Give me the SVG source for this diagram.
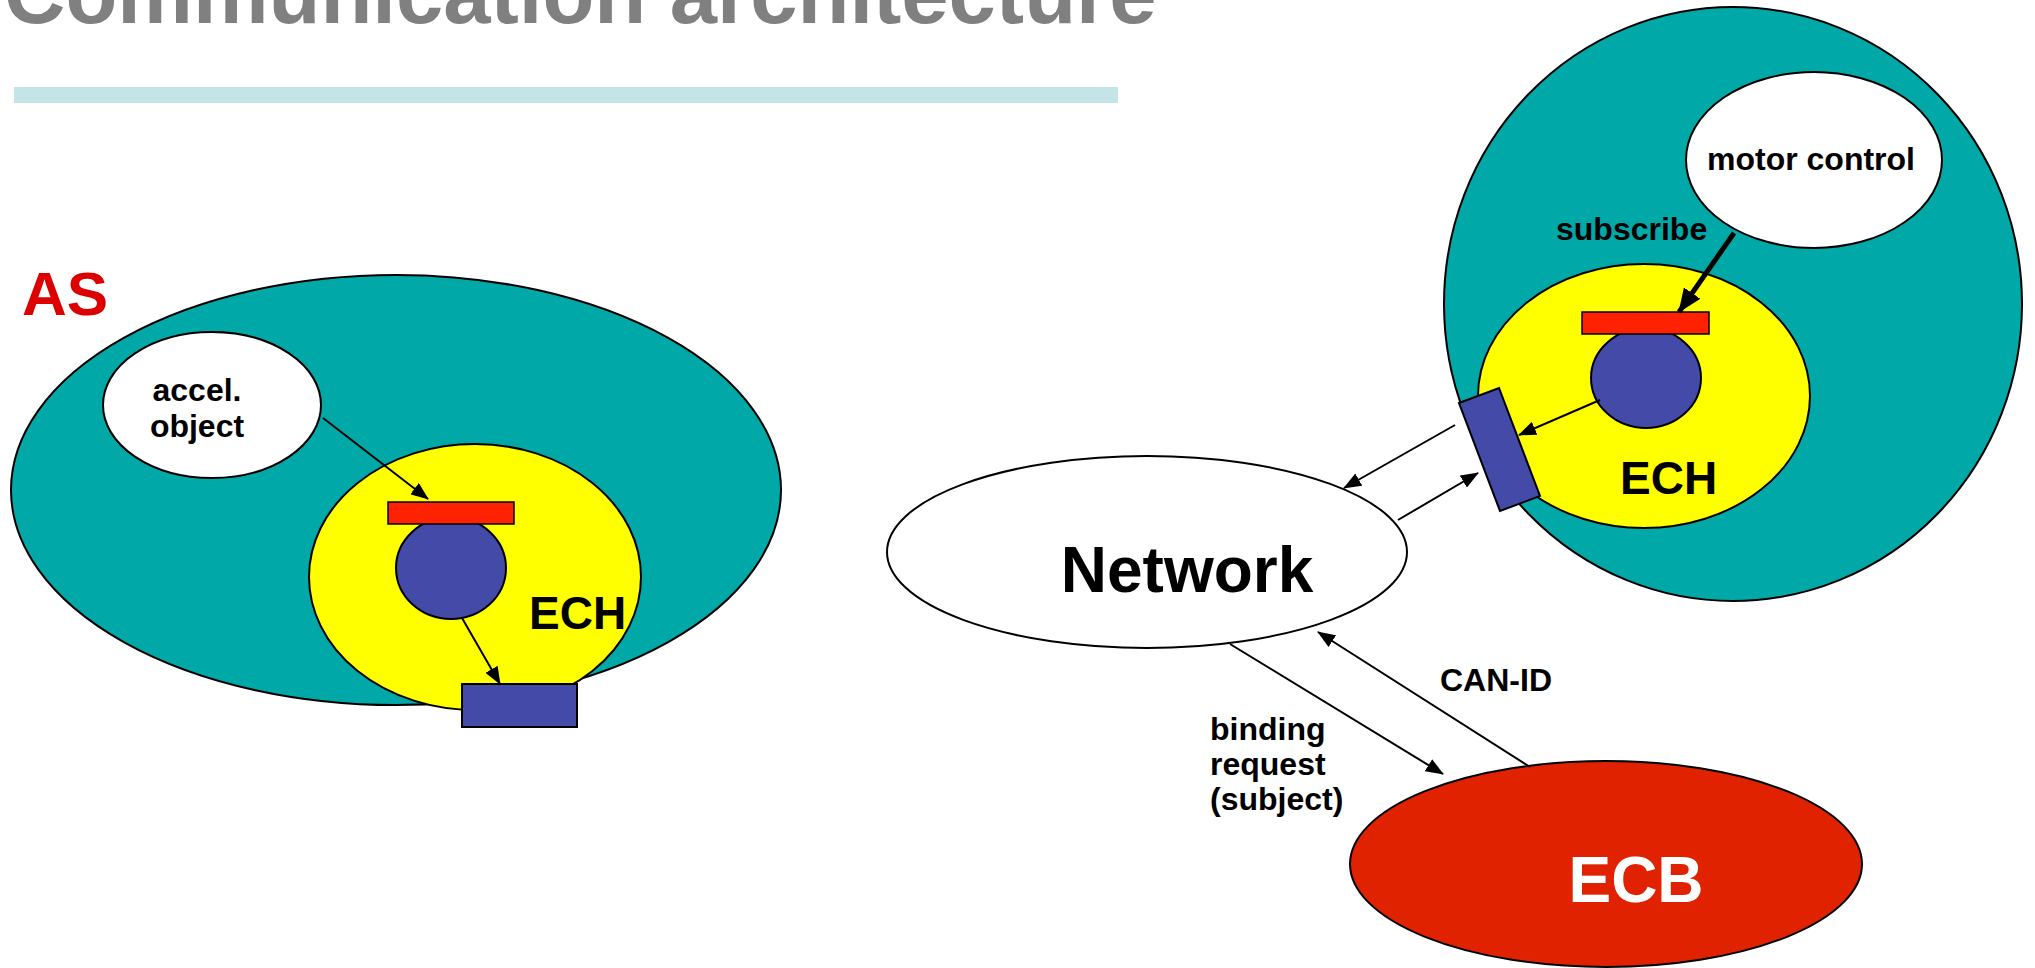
<svg xmlns="http://www.w3.org/2000/svg" width="2035" height="968" viewBox="0 0 2035 968">
  <style>
    .lbl { font-family: "Liberation Sans", Arial, sans-serif; font-weight: bold; fill: #000; }
    .teal { fill: #00a8a8; stroke: #000; stroke-width: 2; }
    .white { fill: #fff; stroke: #000; stroke-width: 2; }
    .yellow { fill: #ffff00; stroke: #000; stroke-width: 2; }
    .blue { fill: #444aa8; stroke: #000; stroke-width: 2; }
    .redbar { fill: #ff2200; stroke: #000; stroke-width: 1.5; }
    .arrow { stroke: #000; stroke-width: 2; fill: none; marker-end: url(#head); }
    .thick { stroke: #000; stroke-width: 5; fill: none; marker-end: url(#bighead); }
  </style>
  <defs>
    <marker id="head" markerUnits="userSpaceOnUse" markerWidth="18" markerHeight="14" refX="17" refY="7" orient="auto">
      <path d="M0,0 L18,7 L0,14 z" fill="#000"/>
    </marker>
    <marker id="bighead" markerUnits="userSpaceOnUse" markerWidth="24" markerHeight="20" refX="23" refY="10" orient="auto">
      <path d="M0,0 L24,10 L0,20 z" fill="#000"/>
    </marker>
  </defs>

  <rect width="2035" height="968" fill="#fff"/>

  <!-- heading and rule -->
  <text x="4" y="23" font-family="Liberation Sans, Arial, sans-serif" font-weight="bold" font-size="85" fill="#808080">Communication architecture</text>
  <rect x="14" y="87" width="1104" height="16" fill="#c4e5e8"/>

  <!-- application station AS -->
  <g id="as">
    <text x="22" y="315" font-family="Liberation Sans, Arial, sans-serif" font-weight="bold" font-size="62" fill="#dd0000">AS</text>
    <ellipse class="teal" cx="396" cy="490" rx="385" ry="215"/>
  </g>
  <g id="accel-object">
    <ellipse class="white" cx="212" cy="405" rx="109" ry="73"/>
    <text class="lbl" font-size="32" text-anchor="middle" x="197" y="401">accel.</text>
    <text class="lbl" font-size="32" text-anchor="middle" x="197" y="437">object</text>
  </g>
  <g id="ech-left">
    <ellipse class="yellow" cx="475" cy="577" rx="166" ry="133"/>
    <ellipse class="blue" cx="451" cy="568" rx="55" ry="51"/>
    <rect class="redbar" x="388" y="502" width="126" height="22"/>
    <text class="lbl" font-size="46" x="529" y="629">ECH</text>
    <rect class="blue" x="462" y="684" width="115" height="43"/>
  </g>

  <!-- remote station -->
  <g id="station-right">
    <ellipse class="teal" cx="1733" cy="304" rx="289" ry="297"/>
  </g>
  <g id="motor-control">
    <ellipse class="white" cx="1814" cy="160" rx="128" ry="88"/>
    <text class="lbl" font-size="32" x="1707" y="170">motor control</text>
  </g>
  <text class="lbl" font-size="32" x="1556" y="240">subscribe</text>
  <g id="ech-right">
    <ellipse class="yellow" cx="1644" cy="396" rx="166" ry="132"/>
    <ellipse class="blue" cx="1646" cy="378" rx="55" ry="50"/>
    <rect class="redbar" x="1582" y="312" width="127" height="22"/>
    <text class="lbl" font-size="46" x="1620" y="494">ECH</text>
    <polygon class="blue" points="1459,403 1499,388 1540,496 1500,511"/>
  </g>

  <!-- bus -->
  <g id="network">
    <ellipse class="white" cx="1147" cy="552" rx="260" ry="96"/>
    <text class="lbl" font-size="64" text-anchor="middle" x="1187" y="592">Network</text>
  </g>

  <!-- binder -->
  <g id="ecb">
    <ellipse cx="1606" cy="864" rx="256" ry="103" fill="#e02200" stroke="#000" stroke-width="2"/>
    <text font-family="Liberation Sans, Arial, sans-serif" font-weight="bold" font-size="64" fill="#fff" text-anchor="middle" x="1636" y="902">ECB</text>
  </g>

  <g id="connectors">
    <line class="arrow" x1="323" y1="418" x2="428" y2="499"/>
    <line class="arrow" x1="462" y1="618" x2="500" y2="684"/>
    <line class="thick" x1="1734" y1="233" x2="1679" y2="312"/>
    <line class="arrow" x1="1600" y1="400" x2="1519" y2="435"/>
    <line class="arrow" x1="1455" y1="425" x2="1344" y2="488"/>
    <line class="arrow" x1="1398" y1="520" x2="1478" y2="473"/>
    <line class="arrow" x1="1230" y1="644" x2="1443" y2="774"/>
    <line class="arrow" x1="1530" y1="767" x2="1318" y2="632"/>
  </g>

  <g id="edge-labels">
    <text class="lbl" font-size="32" x="1440" y="691">CAN-ID</text>
    <text class="lbl" font-size="32" x="1210" y="740">binding</text>
    <text class="lbl" font-size="32" x="1210" y="775">request</text>
    <text class="lbl" font-size="32" x="1210" y="810">(subject)</text>
  </g>
</svg>
